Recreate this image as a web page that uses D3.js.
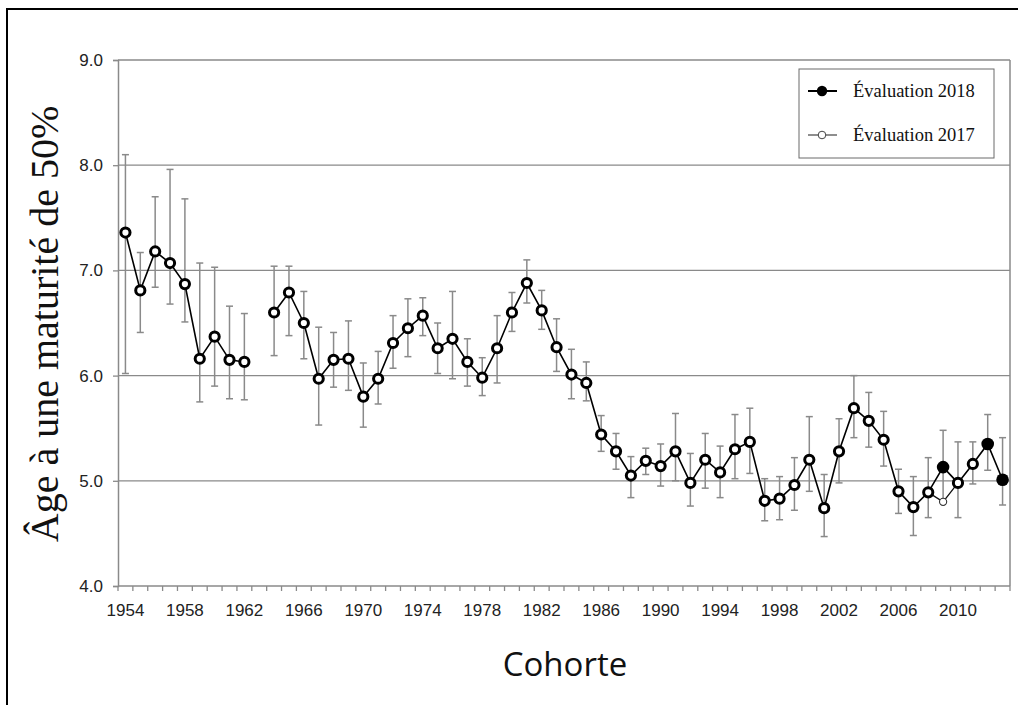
<!DOCTYPE html>
<html>
<head>
<meta charset="utf-8">
<script src="https://cdn.jsdelivr.net/npm/d3@7"></script>
<style>
  body { margin: 0; background: #fff; }
  svg { display: block; }
</style>
</head>
<body>
<div id="chart"></div>
<script>
// cohort years 1954-2013 (1963 missing)
var years = d3.range(1954, 2014);

var ages = [7.36, 6.81, 7.18, 7.07, 6.87, 6.16, 6.37, 6.15, 6.13, null,
  6.60, 6.79, 6.50, 5.97, 6.15, 6.16, 5.80, 5.97, 6.31, 6.45, 6.57, 6.26, 6.35,
  6.13, 5.98, 6.26, 6.60, 6.88, 6.62, 6.27, 6.01, 5.93, 5.44, 5.28, 5.05,
  5.19, 5.14, 5.28, 4.98, 5.20, 5.08, 5.30, 5.37, 4.81, 4.83, 4.96, 5.20, 4.74,
  5.28, 5.69, 5.57, 5.39, 4.90, 4.75, 4.89, 5.13, 4.98, 5.16, 5.35, 5.01];

var upper = [8.10, 7.17, 7.70, 7.96, 7.68, 7.07, 7.03, 6.66, 6.59, null,
  7.04, 7.04, 6.80, 6.46, 6.41, 6.52, 6.12, 6.23, 6.57, 6.73, 6.74, 6.50, 6.80,
  6.35, 6.17, 6.57, 6.79, 7.10, 6.81, 6.54, 6.25, 6.13, 5.62, 5.45, 5.23,
  5.31, 5.35, 5.64, 5.26, 5.45, 5.33, 5.63, 5.69, 5.02, 5.04, 5.22, 5.61, 5.06,
  5.59, 6.00, 5.84, 5.66, 5.11, 5.04, 5.22, 5.48, 5.37, 5.37, 5.63, 5.41];

var lower = [6.02, 6.41, 6.84, 6.68, 6.51, 5.75, 5.90, 5.78, 5.77, null,
  6.19, 6.38, 6.16, 5.53, 5.89, 5.86, 5.51, 5.73, 6.07, 6.18, 6.38, 6.02, 5.97,
  5.90, 5.81, 5.93, 6.42, 6.69, 6.44, 6.04, 5.78, 5.76, 5.28, 5.11, 4.84,
  5.06, 4.95, 5.00, 4.76, 4.93, 4.84, 5.02, 5.07, 4.62, 4.63, 4.72, 4.90, 4.47,
  4.98, 5.41, 5.32, 5.14, 4.69, 4.48, 4.65, 4.80, 4.65, 4.97, 5.10, 4.77];

// cohorts re-estimated in the 2018 assessment (filled markers)
var new2018 = [2009, 2012, 2013];

// 2017 assessment branch
var years2017 = [2008, 2009, 2010];
var ages2017 = [4.89, 4.80, 4.98];

var yTicks = [4, 5, 6, 7, 8, 9];
var xLabelYears = d3.range(1954, 2014, 4);

var legendItems = ["Évaluation 2018", "Évaluation 2017"];

var width = 1018, height = 705;
var svg = d3.select("#chart").append("svg")
  .attr("width", width).attr("height", height);

// outer frame (cropped on the right and bottom)
svg.append("rect")
  .attr("x", 7).attr("y", 9).attr("width", 1030).attr("height", 720)
  .attr("fill", "none").attr("stroke", "#000").attr("stroke-width", 2);

var x = d3.scaleBand().domain(years).range([118, 1010]).padding(0);
var y = d3.scaleLinear().domain([4, 9]).range([586, 60]);
var cx = d => x(d) + x.bandwidth() / 2;

var data = years.map((yr, i) => ({year: yr, v: ages[i], hi: upper[i], lo: lower[i]}));

// gridlines
svg.append("g").selectAll("line")
  .data(yTicks.filter(t => t > 4))
  .join("line")
  .attr("x1", 118).attr("x2", 1010)
  .attr("y1", d => y(d)).attr("y2", d => y(d))
  .attr("stroke", "#8a8a8a").attr("stroke-width", 1.3);

// right plot border
svg.append("line")
  .attr("x1", 1010).attr("x2", 1010).attr("y1", y(9)).attr("y2", y(4))
  .attr("stroke", "#8a8a8a").attr("stroke-width", 1.5);

// y axis
var yAxis = svg.append("g").attr("transform", "translate(118,0)")
  .call(d3.axisLeft(y).tickValues(yTicks).tickFormat(d3.format(".1f")).tickSize(5).tickPadding(10));
yAxis.select(".domain").attr("stroke", "#8a8a8a").attr("stroke-width", 1.5);
yAxis.selectAll(".tick line").attr("stroke", "#8a8a8a").attr("stroke-width", 1.3);
yAxis.selectAll("text").attr("font-family", "Liberation Sans, Arial, sans-serif")
  .attr("font-size", 17).attr("fill", "#222");

// x axis: ticks at category boundaries
var xg = svg.append("g");
xg.append("line").attr("x1", 118).attr("x2", 1010).attr("y1", 586).attr("y2", 586)
  .attr("stroke", "#8a8a8a").attr("stroke-width", 1.5);
xg.selectAll("line.tk")
  .data(years.concat([2014]))
  .join("line").attr("class", "tk")
  .attr("x1", d => d === 2014 ? 1010 : x(d))
  .attr("x2", d => d === 2014 ? 1010 : x(d))
  .attr("y1", 586).attr("y2", 591)
  .attr("stroke", "#8a8a8a").attr("stroke-width", 1.3);
xg.selectAll("text")
  .data(xLabelYears)
  .join("text")
  .attr("x", d => cx(d)).attr("y", 616)
  .attr("text-anchor", "middle")
  .attr("font-family", "Liberation Sans, Arial, sans-serif")
  .attr("font-size", 17).attr("fill", "#222")
  .text(d => d);

// error bars
var eb = svg.append("g").selectAll("g")
  .data(data.filter(d => d.v != null))
  .join("g")
  .attr("stroke", "#8a8a8a").attr("stroke-width", 1.5);
eb.append("line")
  .attr("x1", d => cx(d.year)).attr("x2", d => cx(d.year))
  .attr("y1", d => y(d.hi)).attr("y2", d => y(d.lo));
eb.append("line")
  .attr("x1", d => cx(d.year) - 3.5).attr("x2", d => cx(d.year) + 3.5)
  .attr("y1", d => y(d.hi)).attr("y2", d => y(d.hi));
eb.append("line")
  .attr("x1", d => cx(d.year) - 3.5).attr("x2", d => cx(d.year) + 3.5)
  .attr("y1", d => y(d.lo)).attr("y2", d => y(d.lo));

// 2017 branch
var d2017 = years2017.map((yr, i) => ({year: yr, v: ages2017[i]}));
svg.append("path")
  .datum(d2017)
  .attr("fill", "none").attr("stroke", "#111").attr("stroke-width", 1.3)
  .attr("d", d3.line().x(d => cx(d.year)).y(d => y(d.v)));

// main line
svg.append("path")
  .datum(data)
  .attr("fill", "none").attr("stroke", "#000").attr("stroke-width", 1.6)
  .attr("d", d3.line().defined(d => d.v != null).x(d => cx(d.year)).y(d => y(d.v)));

svg.append("g").selectAll("circle")
  .data(d2017.filter(d => d.year === 2009))
  .join("circle")
  .attr("cx", d => cx(d.year)).attr("cy", d => y(d.v)).attr("r", 3.6)
  .attr("fill", "#fff").attr("stroke", "#333").attr("stroke-width", 1.1);

// markers
svg.append("g").selectAll("circle")
  .data(data.filter(d => d.v != null))
  .join("circle")
  .attr("cx", d => cx(d.year)).attr("cy", d => y(d.v))
  .attr("r", d => new2018.includes(d.year) ? 6.3 : 4.6)
  .attr("fill", d => new2018.includes(d.year) ? "#000" : "#fff")
  .attr("stroke", "#000")
  .attr("stroke-width", d => new2018.includes(d.year) ? 0 : 3);

// legend
var lg = svg.append("g");
lg.append("rect").attr("x", 799).attr("y", 69).attr("width", 195).attr("height", 89)
  .attr("fill", "#fff").attr("stroke", "#6a6a6a").attr("stroke-width", 1);
var li = lg.selectAll("g.it").data(legendItems).join("g").attr("class", "it")
  .attr("transform", (d, i) => "translate(0," + (91 + i * 44) + ")");
li.append("line").attr("x1", 808).attr("x2", 837).attr("y1", 0).attr("y2", 0)
  .attr("stroke", (d, i) => i === 0 ? "#000" : "#444")
  .attr("stroke-width", (d, i) => i === 0 ? 2 : 1.2);
li.append("circle").attr("cx", 822).attr("cy", 0)
  .attr("r", (d, i) => i === 0 ? 5.2 : 3.8)
  .attr("fill", (d, i) => i === 0 ? "#000" : "#fff")
  .attr("stroke", (d, i) => i === 0 ? "none" : "#444").attr("stroke-width", 1);
li.append("text").attr("x", 853).attr("y", 6)
  .attr("font-family", "Liberation Serif, 'Times New Roman', serif")
  .attr("font-size", 18.5).attr("fill", "#111")
  .text(d => d);

// axis titles
svg.append("text")
  .attr("transform", "translate(58,324) rotate(-90)")
  .attr("text-anchor", "middle")
  .attr("font-family", "Liberation Serif, 'Times New Roman', serif")
  .attr("font-size", 40).attr("fill", "#111")
  .text("Âge à une maturité de 50%");

svg.append("text")
  .attr("x", 565).attr("y", 676)
  .attr("text-anchor", "middle")
  .attr("font-family", "'Open Sans', sans-serif")
  .attr("font-size", 33).attr("fill", "#111")
  .text("Cohorte");
</script>
</body>
</html>
